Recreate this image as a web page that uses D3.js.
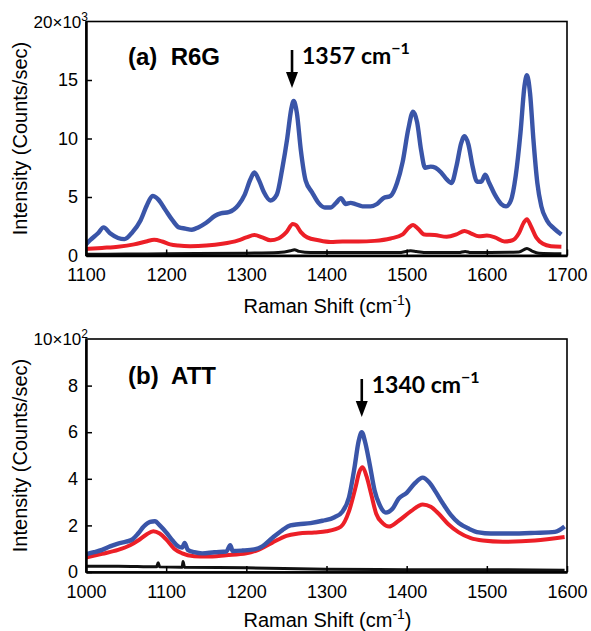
<!DOCTYPE html>
<html><head><meta charset="utf-8">
<script src="https://cdn.jsdelivr.net/npm/d3@7/dist/d3.min.js"></script>
<style>
body{margin:0;background:#fff;}
svg{display:block;}
text{font-family:"Liberation Sans",Arial,sans-serif;fill:#000;}
</style></head>
<body>
<script>
// ---------- DATA ----------
// Panel (a) R6G, intensity in 10^3 counts/sec
const aBlueX = [1098,1105,1115,1122,1130,1140,1148,1158,1168,1176,1183,1190,1199,1208,1216,1224,1232,1240,1250,1261,1268,1278,1290,1298,1305,1310,1316,1322,1330,1338,1345,1351,1356,1359,1363,1368,1374,1382,1390,1398,1405,1412,1418,1424,1430,1436,1445,1455,1463,1471,1480,1488,1495,1502,1508,1513,1518,1523,1530,1536,1543,1550,1556,1562,1568,1572,1577,1582,1588,1593,1598,1603,1610,1618,1624,1630,1636,1642,1647,1650,1654,1658,1663,1668,1675,1684,1693];
const aBlueY = [0.8,1.3,1.9,2.4,1.9,1.5,1.4,2.0,3.0,4.3,5.1,4.8,3.9,3.0,2.4,2.3,2.2,2.4,2.8,3.4,3.6,3.7,4.3,5.2,6.5,7.1,6.4,5.4,4.7,5.2,7.5,10.0,12.5,13.2,12.2,9.0,6.4,5.4,4.5,4.1,4.1,4.5,4.9,4.4,4.5,4.4,4.2,4.2,4.4,4.9,5.1,6.2,8.0,10.8,12.3,11.4,9.0,7.5,7.6,7.5,7.1,6.5,6.2,7.6,9.6,10.2,9.5,7.7,6.3,6.3,6.9,6.2,5.2,4.4,4.2,4.7,6.8,10.5,14.5,15.4,13.8,10.0,6.2,4.2,3.0,2.3,1.8];
const aRedX = [1098,1120,1140,1160,1175,1185,1195,1205,1215,1230,1250,1270,1290,1300,1310,1320,1330,1340,1350,1358,1362,1368,1376,1390,1405,1420,1440,1460,1480,1495,1503,1508,1514,1522,1535,1550,1562,1572,1580,1590,1600,1610,1622,1632,1640,1646,1650,1655,1662,1670,1680,1693];
const aRedY = [0.55,0.65,0.75,0.95,1.2,1.35,1.2,0.95,0.85,0.8,0.85,1.0,1.3,1.55,1.75,1.55,1.3,1.45,2.0,2.7,2.6,2.0,1.55,1.3,1.15,1.2,1.2,1.25,1.45,1.8,2.4,2.6,2.3,1.8,1.75,1.6,1.8,2.1,1.9,1.65,1.7,1.55,1.2,1.3,1.9,2.8,3.1,2.5,1.5,1.0,0.8,0.75];
const aBlackX = [1098,1150,1200,1300,1340,1355,1360,1366,1380,1490,1505,1512,1525,1565,1573,1580,1640,1650,1656,1665,1693];
const aBlackY = [0.1,0.12,0.15,0.2,0.25,0.4,0.5,0.35,0.25,0.25,0.4,0.35,0.25,0.25,0.35,0.25,0.3,0.6,0.4,0.2,0.15];

// Panel (b) ATT, intensity in 10^2 counts/sec
const bBlueX = [998,1010,1020,1030,1040,1050,1058,1065,1072,1080,1086,1092,1100,1108,1115,1120,1123,1127,1135,1145,1160,1175,1180,1183,1195,1210,1220,1232,1245,1255,1265,1280,1295,1310,1320,1328,1335,1340,1344,1348,1354,1360,1366,1374,1382,1390,1400,1410,1420,1428,1436,1445,1455,1465,1478,1490,1505,1530,1560,1585,1597];
const bBlueY = [0.75,0.85,0.95,1.1,1.22,1.3,1.4,1.65,1.95,2.15,2.18,2.0,1.7,1.35,1.1,1.05,1.25,0.95,0.85,0.8,0.85,0.88,1.15,0.9,0.92,0.97,1.1,1.45,1.8,2.0,2.05,2.1,2.2,2.35,2.6,3.2,4.5,5.6,6.0,5.6,4.6,3.5,2.9,2.55,2.7,3.15,3.4,3.8,4.05,3.85,3.45,2.95,2.45,2.1,1.85,1.7,1.65,1.65,1.68,1.72,1.95];
const bRedX = [998,1020,1040,1055,1065,1075,1084,1092,1100,1110,1120,1135,1150,1175,1200,1215,1232,1250,1265,1285,1300,1318,1328,1336,1341,1345,1350,1356,1362,1370,1378,1390,1405,1420,1430,1440,1452,1465,1480,1495,1520,1560,1597];
const bRedY = [0.6,0.78,0.95,1.15,1.35,1.6,1.75,1.65,1.4,1.0,0.8,0.68,0.66,0.72,0.8,0.95,1.25,1.55,1.65,1.7,1.75,1.95,2.6,3.6,4.3,4.5,4.1,3.3,2.5,2.1,1.95,2.2,2.6,2.9,2.8,2.5,2.05,1.7,1.45,1.35,1.3,1.35,1.5];
const bBlackX = [998,1040,1088,1090,1092,1120,1121,1123,1200,1300,1400,1500,1597];
const bBlackY = [0.25,0.25,0.22,0.4,0.22,0.2,0.45,0.2,0.18,0.12,0.1,0.1,0.08];

const aXTicks = [1100,1200,1300,1400,1500,1600,1700];
const aYTicks = [0,5,10,15];
const bXTicks = [1000,1100,1200,1300,1400,1500,1600];
const bYTicks = [0,2,4,6,8];

// ---------- DRAW ----------
const W = 591, H = 631;
const svg = d3.select("body").append("svg").attr("width", W).attr("height", H);

const blue = "#3a55a8", red = "#ec1f27", black = "#111";

function panel(cfg) {
  const x = d3.scaleLinear().domain(cfg.xDom).range([cfg.left, cfg.right]);
  const y = d3.scaleLinear().domain(cfg.yDom).range([cfg.bottom, cfg.top]);
  const g = svg.append("g");
  const clipId = "clip" + cfg.id;
  svg.append("clipPath").attr("id", clipId).append("rect")
    .attr("x", cfg.left).attr("y", cfg.top)
    .attr("width", cfg.right - cfg.left).attr("height", cfg.bottom - cfg.top);

  const line = d3.line().x(d => x(d[0])).y(d => y(d[1])).curve(d3.curveMonotoneX);
  const series = [
    {xs: cfg.blackX, ys: cfg.blackY, c: black, w: 3},
    {xs: cfg.redX, ys: cfg.redY, c: red, w: 4},
    {xs: cfg.blueX, ys: cfg.blueY, c: blue, w: 4.4}
  ];
  series.forEach(s => {
    g.append("path").attr("clip-path", `url(#${clipId})`)
      .datum(s.xs.map((v, i) => [v, s.ys[i]]))
      .attr("fill", "none").attr("stroke", s.c).attr("stroke-width", s.w)
      .attr("stroke-linejoin", "round").attr("d", line);
  });

  // frame
  g.append("rect").attr("x", cfg.left).attr("y", cfg.top)
    .attr("width", cfg.right - cfg.left).attr("height", cfg.bottom - cfg.top)
    .attr("fill", "none").attr("stroke", "#000").attr("stroke-width", 1.6);

  // axes
  const xa = d3.axisBottom(x).tickValues(cfg.xTicks).tickSizeInner(-6).tickSizeOuter(0).tickPadding(13).tickFormat(d3.format("d"));
  const xg = g.append("g").attr("transform", `translate(0,${cfg.bottom})`).call(xa);
  xg.select(".domain").attr("stroke-width", 2.5);
  xg.selectAll(".tick line").attr("stroke-width", 1.5);
  xg.selectAll(".tick text").attr("font-size", 18).attr("font-family", "Liberation Sans, Arial, sans-serif");

  const ya = d3.axisLeft(y).tickValues(cfg.yTicks).tickSizeInner(-6).tickSizeOuter(0).tickPadding(8).tickFormat(d3.format("d"));
  const yg = g.append("g").attr("transform", `translate(${cfg.left},0)`).call(ya);
  yg.select(".domain").attr("stroke-width", 2.5);
  yg.selectAll(".tick line").attr("stroke-width", 1.5);
  yg.selectAll(".tick text").attr("font-size", 18).attr("font-family", "Liberation Sans, Arial, sans-serif");

  // top label with exponent
  const tl = g.append("text").attr("x", cfg.left + 2).attr("y", y(cfg.yDom[1]) + 6)
    .attr("text-anchor", "end").attr("font-size", 17);
  tl.append("tspan").text(cfg.topLabel);
  tl.append("tspan").attr("font-size", 12).attr("dy", -7).text(cfg.exp);

  // axis titles
  const xt = g.append("text").attr("x", (cfg.left + cfg.right) / 2 + 1).attr("y", cfg.xTitleY)
    .attr("text-anchor", "middle").attr("font-size", 20);
  xt.append("tspan").text("Raman Shift (cm");
  xt.append("tspan").attr("font-size", 14).attr("dy", -8).text("-1");
  xt.append("tspan").attr("dy", 8).text(")");

  g.append("text").attr("transform", `translate(${cfg.yTitleX},${(cfg.top + cfg.bottom) / 2}) rotate(-90)`)
    .attr("text-anchor", "middle").attr("font-size", 20).text("Intensity (Counts/sec)");

  // panel label
  g.append("text").attr("x", 128).attr("y", cfg.labelY).attr("font-size", 24)
    .attr("font-weight", "bold").attr("xml:space", "preserve").text(cfg.label);

  // arrow annotation
  const ax = x(cfg.peak);
  g.append("line").attr("x1", ax).attr("x2", ax).attr("y1", cfg.arrowTop).attr("y2", cfg.arrowTip - 14)
    .attr("stroke", "#000").attr("stroke-width", 2.6);
  g.append("path").attr("d", `M${ax - 6},${cfg.arrowTip - 16} L${ax + 6},${cfg.arrowTip - 16} L${ax},${cfg.arrowTip} Z`)
    .attr("fill", "#000");
  const at = g.append("text").attr("x", ax + 10).attr("y", cfg.arrowTop + 14)
    .style("font-family", "Lato, 'Open Sans', sans-serif").attr("font-weight", "bold").attr("font-size", 23);
  at.append("tspan").text(cfg.peakLabel + " cm");
  at.append("tspan").attr("font-size", 16).attr("dy", -10).text("\u22121");
}

panel({
  id: "a", xDom: [1100, 1700], yDom: [0, 20],
  left: 86, right: 567, top: 21.5, bottom: 255.5,
  blueX: aBlueX, blueY: aBlueY, redX: aRedX, redY: aRedY, blackX: aBlackX, blackY: aBlackY,
  xTicks: aXTicks, yTicks: aYTicks, topLabel: "20\u00d710", exp: "3",
  xTitleY: 313, yTitleX: 27, label: "(a)  R6G", labelY: 65,
  peak: 1357, peakLabel: "1357", arrowTop: 50, arrowTip: 88
});

panel({
  id: "b", xDom: [1000, 1600], yDom: [0, 10],
  left: 86, right: 567, top: 339, bottom: 572,
  blueX: bBlueX, blueY: bBlueY, redX: bRedX, redY: bRedY, blackX: bBlackX, blackY: bBlackY,
  xTicks: bXTicks, yTicks: bYTicks, topLabel: "10\u00d710", exp: "2",
  xTitleY: 627, yTitleX: 27, label: "(b)  ATT", labelY: 384,
  peak: 1344, peakLabel: "1340", arrowTop: 379, arrowTip: 417
});
</script>
</body></html>
